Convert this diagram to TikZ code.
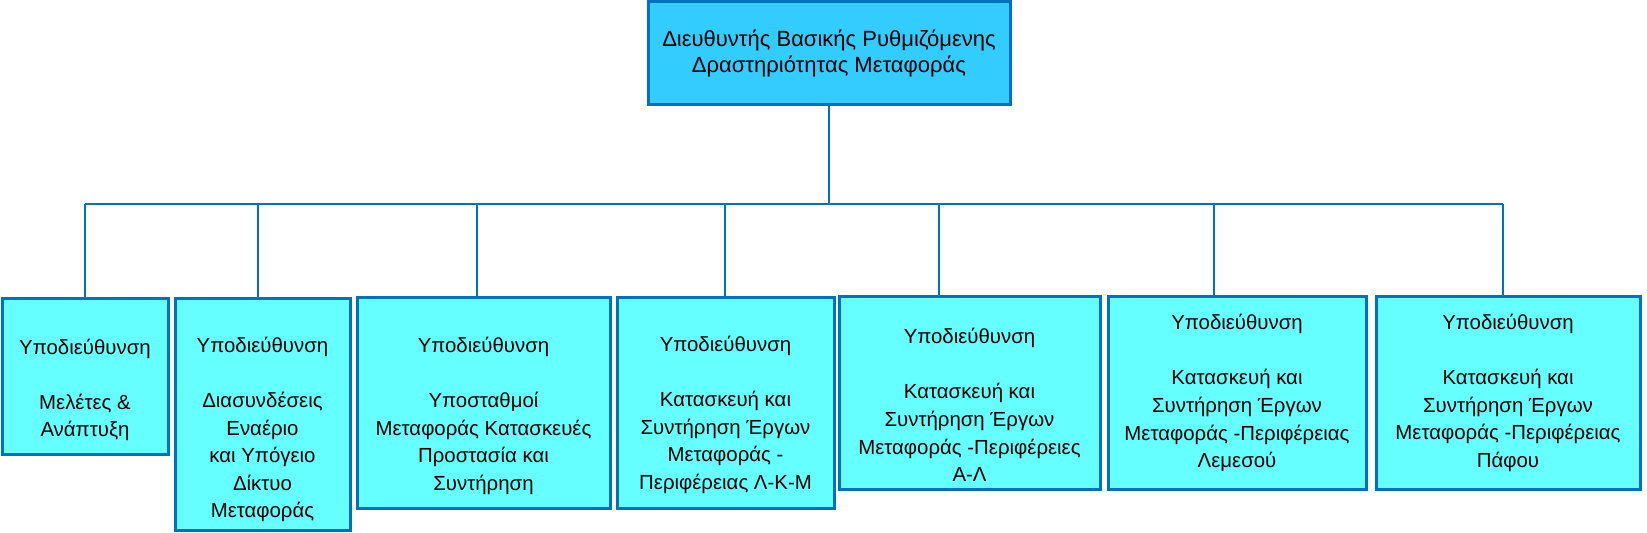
\documentclass[tikz,border=0pt]{standalone}
\usepackage{fontspec}
\setmainfont{Liberation Sans}
\usepackage{xcolor}
\usepackage{tikz}
\usetikzlibrary{positioning}
\definecolor{linkblue} {RGB}{0,112,192}
\definecolor{headfill} {RGB}{51,204,255}
\definecolor{unitfill} {RGB}{102,255,255}
% pushes a text block down inside its box
\newcommand{\lowerby}[1]{\rule{0pt}{\dimexpr7.7pt+#1*2\relax}}

\begin{document}
\begin{tikzpicture}[
  x=0.5pt, y=-0.5pt,
  head/.style={rectangle, draw=linkblue, fill=headfill, line width=1.5pt,
               align=center, font=\fontsize{11}{12.6}\selectfont,
               minimum width=181pt, minimum height=51.5pt},
  unit/.style={rectangle, draw=linkblue, fill=unitfill, line width=1.5pt,
               align=center, font=\fontsize{10.2}{13.8}\selectfont, inner sep=2pt},
  link/.style={draw=linkblue, line width=1.1pt},
]
\useasboundingbox (0,0) rectangle (1647,533);

%-- Top: director
\node[head] (top) at (829,53.5)
  {Διευθυντής Βασικής Ρυθμιζόμενης\\Δραστηριότητας Μεταφοράς};

%-- Bottom: sub-directorates
\node[unit, minimum width=83pt,   minimum height=78pt]   (b1) at (85,377)
  {\lowerby{6.5pt}Υποδιεύθυνση\\[13.8pt]Μελέτες \&\\Ανάπτυξη};
\node[unit, minimum width=87.5pt, minimum height=115.5pt] (b2) at (262.5,414.5)
  {\lowerby{7.5pt}Υποδιεύθυνση\\[13.8pt]Διασυνδέσεις\\Εναέριο\\και Υπόγειο\\Δίκτυο\\Μεταφοράς};
\node[unit, minimum width=126.5pt, minimum height=105pt] (b3) at (483.5,403)
  {\lowerby{6.5pt}Υποδιεύθυνση\\[13.8pt]Υποσταθμοί\\Μεταφοράς Κατασκευές\\Προστασία και\\Συντήρηση};
\node[unit, minimum width=108.5pt, minimum height=105pt] (b4) at (725.5,403)
  {\lowerby{6pt}Υποδιεύθυνση\\[13.8pt]Κατασκευή και\\Συντήρηση Έργων\\Μεταφοράς -\\Περιφέρειας Λ-Κ-Μ};
\node[unit, minimum width=130.5pt, minimum height=96pt]  (b5) at (969.5,393)
  {\lowerby{6pt}Υποδιεύθυνση\\[13.8pt]Κατασκευή και\\Συντήρηση Έργων\\Μεταφοράς -Περιφέρειες\\Α-Λ};
\node[unit, minimum width=129pt,   minimum height=96pt]  (b6) at (1237,393)
  {Υποδιεύθυνση\\[13.8pt]Κατασκευή και\\Συντήρηση Έργων\\Μεταφοράς -Περιφέρειας\\Λεμεσού};
\node[unit, minimum width=132pt,   minimum height=96pt]  (b7) at (1508,393)
  {Υποδιεύθυνση\\[13.8pt]Κατασκευή και\\Συντήρηση Έργων\\Μεταφοράς -Περιφέρειας\\Πάφου};

%-- Bus and drops
\coordinate (hub) at (829,204);
\coordinate (j1) at (85,204);   \coordinate (j2) at (258,204);
\coordinate (j3) at (477,204);  \coordinate (j4) at (725,204);
\coordinate (j5) at (939,204);  \coordinate (j6) at (1214,204);
\coordinate (j7) at (1503,204);

\draw[link] (top.south) -- (hub);
\draw[link] (j1) -- (j7);
\foreach \i in {1,...,7}
  \draw[link] (j\i) -- (j\i |- b\i.north);

\end{tikzpicture}
\end{document}
